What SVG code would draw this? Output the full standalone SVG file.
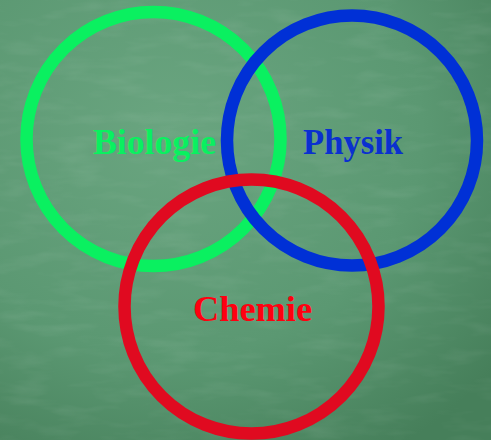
<svg xmlns="http://www.w3.org/2000/svg" width="491" height="440" viewBox="0 0 491 440">
  <defs>
    <radialGradient id="board" cx="0.35" cy="0.3" r="0.85">
      <stop offset="0" stop-color="#6aa580"/>
      <stop offset="0.6" stop-color="#5b9872"/>
      <stop offset="1" stop-color="#467f5a"/>
    </radialGradient>
    <filter id="chalk" x="0" y="0" width="100%" height="100%">
      <feTurbulence type="fractalNoise" baseFrequency="0.02 0.08" numOctaves="3" seed="4" result="n"/>
      <feColorMatrix in="n" type="matrix" values="0 0 0 0 1  0 0 0 0 1  0 0 0 0 1  0 0 0 1.2 -0.55" result="w"/>
      <feComposite in="w" in2="SourceGraphic" operator="in"/>
    </filter>
    <style>
      .ring { fill: none; stroke-width: 12.5; }
      .label { font-family: "Liberation Serif", "DejaVu Serif", serif; font-weight: bold; font-size: 36px; }
    </style>
  </defs>
  <rect width="491" height="440" fill="url(#board)"/>
  <rect width="491" height="440" fill="#ffffff" filter="url(#chalk)" opacity="0.12"/>
  <g id="biologie">
    <circle class="ring" cx="153.5" cy="139" r="127" stroke="#0af060"/>
    <text class="label" x="154.5" y="154" text-anchor="middle" fill="#0af060" textLength="123" lengthAdjust="spacingAndGlyphs">Biologie</text>
  </g>
  <g id="physik">
    <circle class="ring" cx="352" cy="140.5" r="125" stroke="#0030d6"/>
    <text class="label" x="353" y="154" text-anchor="middle" fill="#0a30d0" textLength="100" lengthAdjust="spacingAndGlyphs">Physik</text>
  </g>
  <g id="chemie">
    <circle class="ring" cx="251.5" cy="306.5" r="127" stroke="#e00a20"/>
    <text class="label" x="252.5" y="321" text-anchor="middle" fill="#ff0010" textLength="119" lengthAdjust="spacingAndGlyphs">Chemie</text>
  </g>
  <g id="connectors"/>
</svg>
